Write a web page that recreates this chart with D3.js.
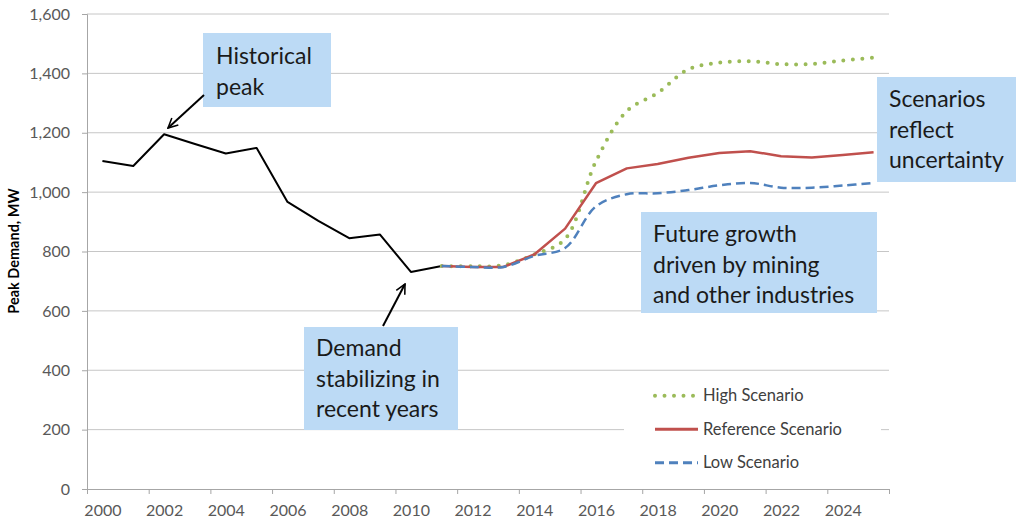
<!DOCTYPE html>
<html>
<head>
<meta charset="utf-8">
<script src="https://cdn.jsdelivr.net/npm/d3@7"></script>
<style>
  body { margin: 0; background: #fff; }
  svg { display: block; font-family: Lato, "Open Sans", sans-serif; }
</style>
</head>
<body>
<svg id="chart" width="1016" height="521"></svg>
<script>
// historical peak demand, MW
const histYears = d3.range(2000, 2012);
const histValues = [1105, 1088, 1195, 1162, 1130, 1149, 967, 903, 845, 857, 731, 751];

// forecast scenarios
const scenYears = d3.range(2011, 2026);
const highValues = [751, 750, 754, 790, 842, 1104, 1273, 1334, 1414, 1436, 1441, 1431, 1432, 1443, 1453];
const refValues  = [751, 748, 748, 790, 877, 1030, 1080, 1095, 1116, 1132, 1138, 1121, 1117, 1125, 1134];
const lowValues  = [751, 748, 748, 785, 812, 952, 993, 996, 1007, 1023, 1031, 1015, 1015, 1022, 1031];

const yTicks = [0, 200, 400, 600, 800, 1000, 1200, 1400, 1600];
const xLabels = d3.range(2000, 2025, 2);
const seriesNames = ["High Scenario", "Reference Scenario", "Low Scenario"];

const margin = {top: 14, right: 127, bottom: 32, left: 87};
const width = 1016 - margin.left - margin.right;
const height = 521 - margin.top - margin.bottom;

const svg = d3.select('#chart');
const g = svg.append('g').attr('transform', `translate(${margin.left},${margin.top})`);

// category axis: each year gets one slot, point at slot centre
const x = d3.scaleLinear().domain([1999.5, 2025.5]).range([0, width]);
const y = d3.scaleLinear().domain([0, 1600]).range([height, 0]);

// gridlines
g.append('g')
  .selectAll('line')
  .data(yTicks.filter(d => d > 0))
  .enter().append('line')
    .attr('x1', 0).attr('x2', width)
    .attr('y1', d => y(d)).attr('y2', d => y(d))
    .attr('stroke', '#c6c6c6').attr('stroke-width', 1);

// y axis
const yAxis = g.append('g')
  .call(d3.axisLeft(y).tickValues(yTicks).tickFormat(d3.format(',')).tickSize(5).tickPadding(12));
yAxis.select('.domain').attr('stroke', '#a6a6a6');
yAxis.selectAll('.tick line').attr('stroke', '#a6a6a6');
yAxis.selectAll('text').style('font-size', '16px').attr('fill', '#595959').style('font-family', 'Lato');

// x axis: tick marks between every second category, labels under even years
const xTickAxis = g.append('g')
  .attr('transform', `translate(0,${height})`)
  .call(d3.axisBottom(x).tickValues(d3.range(1999.5, 2026, 2)).tickFormat('').tickSize(5));
xTickAxis.select('.domain').attr('stroke', '#a6a6a6');
xTickAxis.selectAll('.tick line').attr('stroke', '#a6a6a6');

const xLabelAxis = g.append('g')
  .attr('transform', `translate(0,${height})`)
  .call(d3.axisBottom(x).tickValues(xLabels).tickFormat(d3.format('d')).tickSize(0).tickPadding(16));
xLabelAxis.select('.domain').remove();
xLabelAxis.selectAll('text').style('font-size', '16px').attr('fill', '#595959').style('font-family', 'Lato');

// y title
svg.append('text')
  .attr('transform', 'translate(19,251) rotate(-90)')
  .attr('text-anchor', 'middle')
  .style('font-size', '14.5px').style('font-weight', 'bold')
  .attr('fill', '#000')
  .text('Peak Demand, MW');

// lines
const histLine = d3.line().x((d, i) => x(histYears[i])).y(d => y(d));
const scenLine = d3.line().x((d, i) => x(scenYears[i])).y(d => y(d));
const scenSmooth = d3.line().x((d, i) => x(scenYears[i])).y(d => y(d)).curve(d3.curveCatmullRom);

g.append('path')
  .datum(histValues)
  .attr('fill', 'none')
  .attr('stroke', '#000')
  .attr('stroke-width', 2)
  .attr('stroke-linejoin', 'round')
  .attr('d', histLine);

const styles = [
  {color: '#9bbb59', width: 4, dash: '0 9.5', cap: 'round'},
  {color: '#c0504d', width: 2.5, dash: null, cap: 'butt'},
  {color: '#4f81bd', width: 2.5, dash: '9 5', cap: 'butt'}
];

g.append('path')
  .datum(highValues)
  .attr('fill', 'none')
  .attr('stroke', styles[0].color)
  .attr('stroke-width', styles[0].width)
  .attr('stroke-dasharray', styles[0].dash)
  .attr('stroke-linecap', 'round')
  .attr('d', scenSmooth);

g.append('path')
  .datum(refValues)
  .attr('fill', 'none')
  .attr('stroke', styles[1].color)
  .attr('stroke-width', styles[1].width)
  .attr('stroke-linejoin', 'round')
  .attr('d', scenLine);

g.append('path')
  .datum(lowValues)
  .attr('fill', 'none')
  .attr('stroke', styles[2].color)
  .attr('stroke-width', styles[2].width)
  .attr('stroke-dasharray', styles[2].dash)
  .attr('d', scenSmooth);

// legend
const legend = svg.append('g');
legend.append('rect')
  .attr('x', 624).attr('y', 378).attr('width', 257).attr('height', 102)
  .attr('fill', '#fff');

seriesNames.forEach((name, i) => {
  const ly = 395.7 + i * 33.5;
  legend.append('line')
    .attr('x1', 655).attr('x2', 698)
    .attr('y1', ly).attr('y2', ly)
    .attr('stroke', styles[i].color)
    .attr('stroke-width', i === 0 ? 4 : 3)
    .attr('stroke-dasharray', styles[i].dash)
    .attr('stroke-linecap', styles[i].cap);
  legend.append('text')
    .attr('x', 703).attr('y', ly + 5.5)
    .style('font-size', '16.5px')
    .attr('fill', '#404040')
    .text(name);
});

// annotation boxes
const notes = [
  {x: 203, y: 33, w: 128, h: 74, lines: ['Historical', 'peak'], tx: 216, ty: 64},
  {x: 304, y: 327, w: 154, h: 103, lines: ['Demand', 'stabilizing in', 'recent years'], tx: 316, ty: 356},
  {x: 641, y: 212, w: 236, h: 101, lines: ['Future growth', 'driven by mining', 'and other industries'], tx: 653, ty: 242},
  {x: 877, y: 77, w: 139, h: 105, lines: ['Scenarios', 'reflect', 'uncertainty'], tx: 889, ty: 107}
];

svg.append('defs').append('marker')
  .attr('id', 'arrow')
  .attr('viewBox', '0 0 10 10')
  .attr('refX', 9).attr('refY', 5)
  .attr('markerWidth', 6).attr('markerHeight', 6)
  .attr('orient', 'auto')
  .append('path')
    .attr('d', 'M1,1 L9,5 L1,9')
    .attr('fill', 'none')
    .attr('stroke', '#000')
    .attr('stroke-width', 1.3);

const ann = svg.append('g');
notes.forEach(n => {
  ann.append('rect')
    .attr('x', n.x).attr('y', n.y).attr('width', n.w).attr('height', n.h)
    .attr('fill', '#bcdaf5');
  n.lines.forEach((t, i) => {
    ann.append('text')
      .attr('x', n.tx).attr('y', n.ty + i * 30.5)
      .style('font-size', '23px')
      .attr('fill', '#1a1a1a')
      .text(t);
  });
});

// arrows
ann.append('line')
  .attr('x1', 204).attr('y1', 95).attr('x2', 168).attr('y2', 128)
  .attr('stroke', '#000').attr('stroke-width', 2)
  .attr('marker-end', 'url(#arrow)');
ann.append('line')
  .attr('x1', 383).attr('y1', 326).attr('x2', 405).attr('y2', 284)
  .attr('stroke', '#000').attr('stroke-width', 2)
  .attr('marker-end', 'url(#arrow)');
</script>
</body>
</html>
